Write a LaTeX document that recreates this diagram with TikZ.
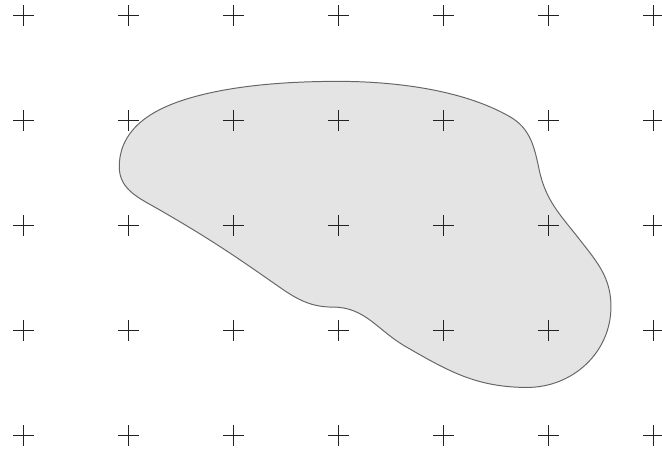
\documentclass[tikz,border=0pt]{standalone}
\definecolor{blobfill}{HTML}{E4E4E4}
\definecolor{blobline}{HTML}{666666}
\definecolor{crossline}{HTML}{222222}
\begin{document}
\begin{tikzpicture}[x=1.5cm, y=1.5cm]
      \useasboundingbox (-0.222,-0.193) rectangle (6.083,4.150);

      \filldraw[fill=blobfill, draw=blobline, line width=0.4pt]
        (0.914,2.56) to[out=90,in=198] (1.524,3.197)
        to[out=18,in=180,looseness=0.8] (3.0,3.375)
        to[out=0,in=150,looseness=0.8] (4.635,3.038)
        to[out=-30,in=102] (4.914,2.53)
        to[out=-78,in=128] (5.302,1.864)
        to[out=-52,in=90] (5.597,1.229)
        to[out=-90,in=0] (4.80,0.46)
        to[out=180,in=-30] (3.64,0.85)
        to[out=150,in=0] (2.95,1.225)
        to[out=180,in=-35] (2.39,1.45)
        to[out=145,in=-30] (1.30,2.15)
        to[out=150,in=-90] cycle;

      % grid of crosses
      \foreach \i in {0,...,6}
        \foreach \j in {0,...,4}
          \draw[crossline, line width=0.55pt] (\i-0.1,\j) -- (\i+0.1,\j) (\i,\j-0.1) -- (\i,\j+0.1);
    \end{tikzpicture}
\end{document}
